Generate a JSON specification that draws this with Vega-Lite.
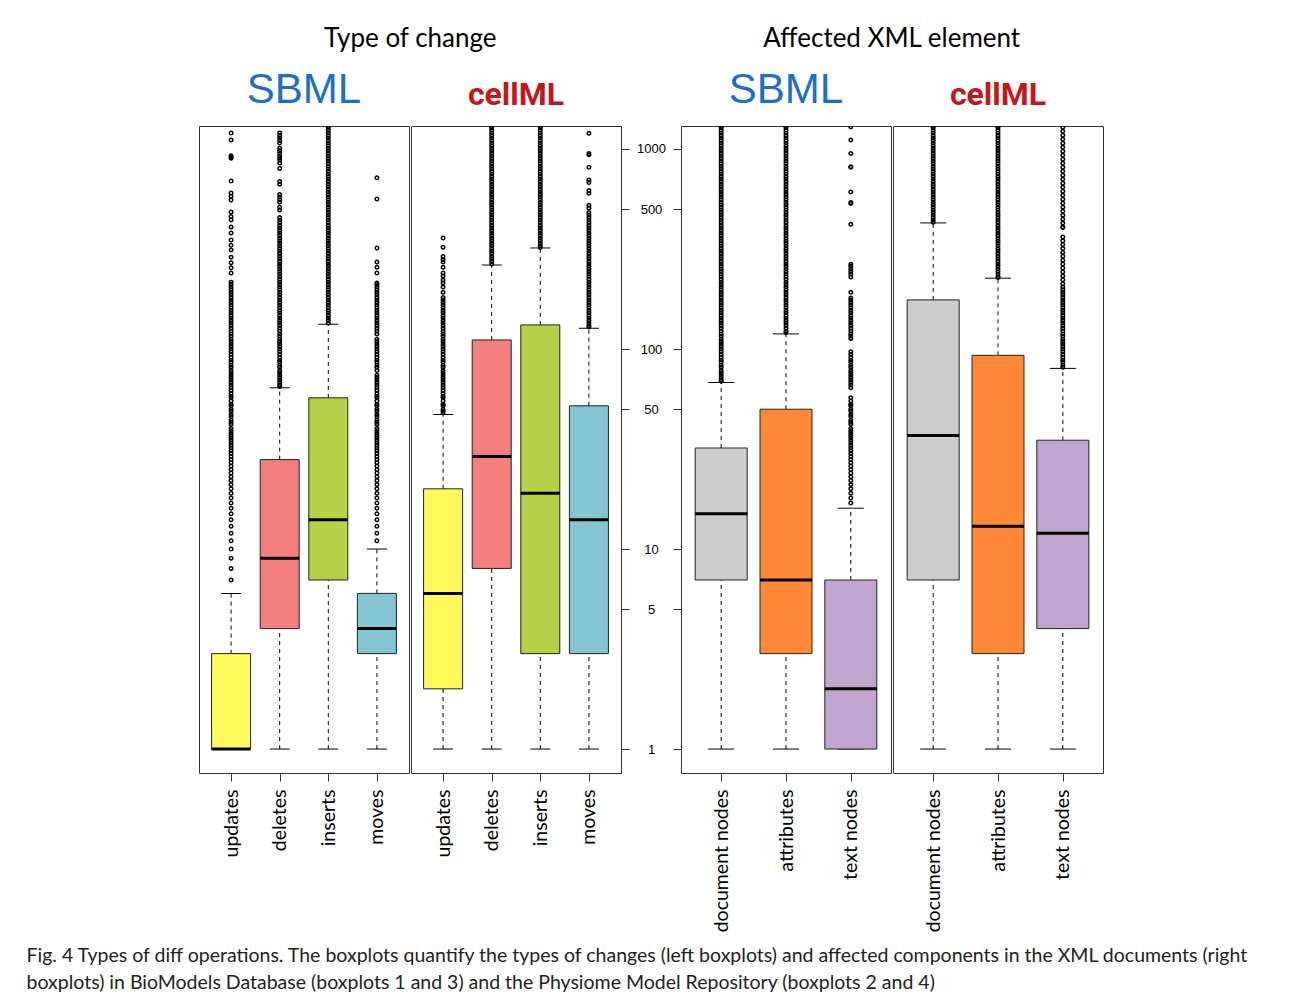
{
  "$schema": "https://vega.github.io/schema/vega-lite/v6.json",
  "background": "#ffffff",
  "padding": {"left": 26, "top": 25, "right": 5, "bottom": 5},
  "title": {
    "text": [
      "Fig. 4 Types of diff operations. The boxplots quantify the types of changes (left boxplots) and affected components in the XML documents (right",
      "boxplots) in BioModels Database (boxplots 1 and 3) and the Physiome Model Repository (boxplots 2 and 4)"
    ],
    "orient": "bottom",
    "anchor": "start",
    "font": "Lato",
    "fontSize": 19.5,
    "fontWeight": "normal",
    "color": "#222222",
    "lineHeight": 27,
    "baseline": "top",
    "offset": 15,
    "dx": -172
  },
  "datasets": {
    "boxA": [
      {"op": "updates", "lower": 1, "q1": 1, "median": 1, "q3": 3, "upper": 6},
      {"op": "deletes", "lower": 1, "q1": 4, "median": 9, "q3": 28, "upper": 64},
      {"op": "inserts", "lower": 1, "q1": 7, "median": 14, "q3": 57, "upper": 133},
      {"op": "moves", "lower": 1, "q1": 3, "median": 4, "q3": 6, "upper": 10}
    ],
    "boxB": [
      {"op": "updates", "lower": 1, "q1": 2, "median": 6, "q3": 20, "upper": 47},
      {"op": "deletes", "lower": 1, "q1": 8, "median": 29, "q3": 111, "upper": 263},
      {"op": "inserts", "lower": 1, "q1": 3, "median": 19, "q3": 132, "upper": 320},
      {"op": "moves", "lower": 1, "q1": 3, "median": 14, "q3": 52, "upper": 127}
    ],
    "boxC": [
      {"op": "document nodes", "lower": 1, "q1": 7, "median": 15, "q3": 32, "upper": 68},
      {"op": "attributes", "lower": 1, "q1": 3, "median": 7, "q3": 50, "upper": 119},
      {"op": "text nodes", "lower": 1, "q1": 1, "median": 2, "q3": 7, "upper": 16}
    ],
    "boxD": [
      {"op": "document nodes", "lower": 1, "q1": 7, "median": 37, "q3": 176, "upper": 427},
      {"op": "attributes", "lower": 1, "q1": 3, "median": 13, "q3": 93, "upper": 226},
      {"op": "text nodes", "lower": 1, "q1": 4, "median": 12, "q3": 35, "upper": 80}
    ],
    "outA": [
      {"op":"updates","n":7},{"op":"updates","n":8},{"op":"updates","n":9},{"op":"updates","n":10},{"op":"updates","n":11},{"op":"updates","n":12},{"op":"updates","n":13},{"op":"updates","n":14},{"op":"updates","n":15},{"op":"updates","n":16},{"op":"updates","n":17},{"op":"updates","n":18},{"op":"updates","n":19},{"op":"updates","n":20},{"op":"updates","n":21},{"op":"updates","n":22},{"op":"updates","n":23},{"op":"updates","n":24},{"op":"updates","n":25},{"op":"updates","n":26},{"op":"updates","n":27},{"op":"updates","n":28},{"op":"updates","n":29},{"op":"updates","n":30},{"op":"updates","n":31},{"op":"updates","n":32},{"op":"updates","n":33},{"op":"updates","n":34},{"op":"updates","n":35},{"op":"updates","n":36},{"op":"updates","n":37},{"op":"updates","n":38},{"op":"updates","n":39},{"op":"updates","n":40},{"op":"updates","n":42},{"op":"updates","n":43},{"op":"updates","n":44},{"op":"updates","n":46},{"op":"updates","n":47},{"op":"updates","n":49},{"op":"updates","n":50},{"op":"updates","n":52},{"op":"updates","n":53},{"op":"updates","n":55},{"op":"updates","n":57},{"op":"updates","n":58},{"op":"updates","n":60},{"op":"updates","n":62},{"op":"updates","n":64},{"op":"updates","n":66},{"op":"updates","n":68},{"op":"updates","n":70},{"op":"updates","n":72},{"op":"updates","n":74},{"op":"updates","n":76},{"op":"updates","n":78},{"op":"updates","n":81},{"op":"updates","n":83},{"op":"updates","n":86},{"op":"updates","n":88},{"op":"updates","n":91},{"op":"updates","n":94},{"op":"updates","n":97},{"op":"updates","n":100},{"op":"updates","n":103},{"op":"updates","n":106},{"op":"updates","n":109},{"op":"updates","n":112},{"op":"updates","n":116},{"op":"updates","n":119},{"op":"updates","n":123},{"op":"updates","n":127},{"op":"updates","n":131},{"op":"updates","n":135},{"op":"updates","n":139},{"op":"updates","n":143},{"op":"updates","n":147},{"op":"updates","n":152},{"op":"updates","n":156},{"op":"updates","n":161},{"op":"updates","n":166},{"op":"updates","n":171},{"op":"updates","n":176},{"op":"updates","n":181},{"op":"updates","n":187},{"op":"updates","n":192},{"op":"updates","n":198},{"op":"updates","n":204},{"op":"updates","n":210},{"op":"updates","n":216},{"op":"updates","n":240},{"op":"updates","n":255},{"op":"updates","n":270},{"op":"updates","n":288},{"op":"updates","n":313},{"op":"updates","n":330},{"op":"updates","n":351},{"op":"updates","n":380},{"op":"updates","n":407},{"op":"updates","n":442},{"op":"updates","n":460},{"op":"updates","n":484},{"op":"updates","n":556},{"op":"updates","n":580},{"op":"updates","n":603},{"op":"updates","n":692},{"op":"updates","n":900},{"op":"updates","n":912},{"op":"updates","n":925},{"op":"updates","n":1109},{"op":"updates","n":1202},
      {"op":"deletes","n":65},{"op":"deletes","n":66},{"op":"deletes","n":68},{"op":"deletes","n":70},{"op":"deletes","n":72},{"op":"deletes","n":74},{"op":"deletes","n":76},{"op":"deletes","n":78},{"op":"deletes","n":81},{"op":"deletes","n":83},{"op":"deletes","n":86},{"op":"deletes","n":88},{"op":"deletes","n":91},{"op":"deletes","n":94},{"op":"deletes","n":97},{"op":"deletes","n":100},{"op":"deletes","n":103},{"op":"deletes","n":106},{"op":"deletes","n":109},{"op":"deletes","n":112},{"op":"deletes","n":116},{"op":"deletes","n":119},{"op":"deletes","n":123},{"op":"deletes","n":127},{"op":"deletes","n":131},{"op":"deletes","n":135},{"op":"deletes","n":139},{"op":"deletes","n":143},{"op":"deletes","n":147},{"op":"deletes","n":152},{"op":"deletes","n":156},{"op":"deletes","n":161},{"op":"deletes","n":166},{"op":"deletes","n":171},{"op":"deletes","n":176},{"op":"deletes","n":181},{"op":"deletes","n":187},{"op":"deletes","n":192},{"op":"deletes","n":198},{"op":"deletes","n":204},{"op":"deletes","n":210},{"op":"deletes","n":216},{"op":"deletes","n":223},{"op":"deletes","n":230},{"op":"deletes","n":237},{"op":"deletes","n":244},{"op":"deletes","n":251},{"op":"deletes","n":259},{"op":"deletes","n":266},{"op":"deletes","n":274},{"op":"deletes","n":283},{"op":"deletes","n":291},{"op":"deletes","n":300},{"op":"deletes","n":309},{"op":"deletes","n":318},{"op":"deletes","n":328},{"op":"deletes","n":338},{"op":"deletes","n":348},{"op":"deletes","n":358},{"op":"deletes","n":369},{"op":"deletes","n":380},{"op":"deletes","n":391},{"op":"deletes","n":403},{"op":"deletes","n":415},{"op":"deletes","n":428},{"op":"deletes","n":441},{"op":"deletes","n":454},{"op":"deletes","n":496},{"op":"deletes","n":511},{"op":"deletes","n":542},{"op":"deletes","n":558},{"op":"deletes","n":575},{"op":"deletes","n":592},{"op":"deletes","n":667},{"op":"deletes","n":687},{"op":"deletes","n":800},{"op":"deletes","n":850},{"op":"deletes","n":880},{"op":"deletes","n":900},{"op":"deletes","n":923},{"op":"deletes","n":951},{"op":"deletes","n":979},{"op":"deletes","n":1009},{"op":"deletes","n":1070},{"op":"deletes","n":1102},{"op":"deletes","n":1135},{"op":"deletes","n":1169},{"op":"deletes","n":1204},
      {"op":"inserts","n":135},{"op":"inserts","n":139},{"op":"inserts","n":143},{"op":"inserts","n":147},{"op":"inserts","n":152},{"op":"inserts","n":156},{"op":"inserts","n":161},{"op":"inserts","n":166},{"op":"inserts","n":171},{"op":"inserts","n":176},{"op":"inserts","n":181},{"op":"inserts","n":187},{"op":"inserts","n":192},{"op":"inserts","n":198},{"op":"inserts","n":204},{"op":"inserts","n":210},{"op":"inserts","n":216},{"op":"inserts","n":223},{"op":"inserts","n":230},{"op":"inserts","n":237},{"op":"inserts","n":244},{"op":"inserts","n":251},{"op":"inserts","n":259},{"op":"inserts","n":266},{"op":"inserts","n":274},{"op":"inserts","n":283},{"op":"inserts","n":291},{"op":"inserts","n":300},{"op":"inserts","n":309},{"op":"inserts","n":318},{"op":"inserts","n":328},{"op":"inserts","n":338},{"op":"inserts","n":348},{"op":"inserts","n":358},{"op":"inserts","n":369},{"op":"inserts","n":380},{"op":"inserts","n":391},{"op":"inserts","n":403},{"op":"inserts","n":415},{"op":"inserts","n":428},{"op":"inserts","n":441},{"op":"inserts","n":454},{"op":"inserts","n":468},{"op":"inserts","n":482},{"op":"inserts","n":496},{"op":"inserts","n":511},{"op":"inserts","n":526},{"op":"inserts","n":542},{"op":"inserts","n":558},{"op":"inserts","n":575},{"op":"inserts","n":592},{"op":"inserts","n":610},{"op":"inserts","n":628},{"op":"inserts","n":647},{"op":"inserts","n":667},{"op":"inserts","n":687},{"op":"inserts","n":707},{"op":"inserts","n":728},{"op":"inserts","n":750},{"op":"inserts","n":773},{"op":"inserts","n":796},{"op":"inserts","n":820},{"op":"inserts","n":845},{"op":"inserts","n":870},{"op":"inserts","n":896},{"op":"inserts","n":923},{"op":"inserts","n":951},{"op":"inserts","n":979},{"op":"inserts","n":1009},{"op":"inserts","n":1039},{"op":"inserts","n":1070},{"op":"inserts","n":1102},{"op":"inserts","n":1135},{"op":"inserts","n":1169},{"op":"inserts","n":1204},{"op":"inserts","n":1240},{"op":"inserts","n":1277},{"op":"inserts","n":1300},
      {"op":"moves","n":11},{"op":"moves","n":12},{"op":"moves","n":13},{"op":"moves","n":14},{"op":"moves","n":15},{"op":"moves","n":16},{"op":"moves","n":17},{"op":"moves","n":18},{"op":"moves","n":19},{"op":"moves","n":20},{"op":"moves","n":21},{"op":"moves","n":22},{"op":"moves","n":23},{"op":"moves","n":24},{"op":"moves","n":25},{"op":"moves","n":26},{"op":"moves","n":27},{"op":"moves","n":28},{"op":"moves","n":29},{"op":"moves","n":30},{"op":"moves","n":31},{"op":"moves","n":32},{"op":"moves","n":33},{"op":"moves","n":34},{"op":"moves","n":35},{"op":"moves","n":36},{"op":"moves","n":37},{"op":"moves","n":38},{"op":"moves","n":39},{"op":"moves","n":40},{"op":"moves","n":42},{"op":"moves","n":43},{"op":"moves","n":44},{"op":"moves","n":46},{"op":"moves","n":47},{"op":"moves","n":49},{"op":"moves","n":50},{"op":"moves","n":52},{"op":"moves","n":53},{"op":"moves","n":55},{"op":"moves","n":57},{"op":"moves","n":58},{"op":"moves","n":60},{"op":"moves","n":62},{"op":"moves","n":64},{"op":"moves","n":66},{"op":"moves","n":68},{"op":"moves","n":70},{"op":"moves","n":72},{"op":"moves","n":74},{"op":"moves","n":78},{"op":"moves","n":81},{"op":"moves","n":83},{"op":"moves","n":86},{"op":"moves","n":88},{"op":"moves","n":91},{"op":"moves","n":94},{"op":"moves","n":97},{"op":"moves","n":100},{"op":"moves","n":103},{"op":"moves","n":106},{"op":"moves","n":109},{"op":"moves","n":112},{"op":"moves","n":119},{"op":"moves","n":123},{"op":"moves","n":127},{"op":"moves","n":131},{"op":"moves","n":135},{"op":"moves","n":139},{"op":"moves","n":143},{"op":"moves","n":147},{"op":"moves","n":152},{"op":"moves","n":156},{"op":"moves","n":161},{"op":"moves","n":166},{"op":"moves","n":171},{"op":"moves","n":176},{"op":"moves","n":181},{"op":"moves","n":187},{"op":"moves","n":192},{"op":"moves","n":198},{"op":"moves","n":204},{"op":"moves","n":210},{"op":"moves","n":214},{"op":"moves","n":240},{"op":"moves","n":256},{"op":"moves","n":272},{"op":"moves","n":320},{"op":"moves","n":562},{"op":"moves","n":718}
    ],
    "outB": [
      {"op":"updates","n":48},{"op":"updates","n":49},{"op":"updates","n":50},{"op":"updates","n":52},{"op":"updates","n":53},{"op":"updates","n":55},{"op":"updates","n":57},{"op":"updates","n":58},{"op":"updates","n":60},{"op":"updates","n":62},{"op":"updates","n":64},{"op":"updates","n":66},{"op":"updates","n":68},{"op":"updates","n":70},{"op":"updates","n":72},{"op":"updates","n":74},{"op":"updates","n":76},{"op":"updates","n":78},{"op":"updates","n":81},{"op":"updates","n":83},{"op":"updates","n":86},{"op":"updates","n":88},{"op":"updates","n":91},{"op":"updates","n":94},{"op":"updates","n":97},{"op":"updates","n":100},{"op":"updates","n":103},{"op":"updates","n":106},{"op":"updates","n":109},{"op":"updates","n":112},{"op":"updates","n":116},{"op":"updates","n":119},{"op":"updates","n":123},{"op":"updates","n":127},{"op":"updates","n":131},{"op":"updates","n":135},{"op":"updates","n":139},{"op":"updates","n":143},{"op":"updates","n":147},{"op":"updates","n":152},{"op":"updates","n":156},{"op":"updates","n":161},{"op":"updates","n":166},{"op":"updates","n":171},{"op":"updates","n":176},{"op":"updates","n":181},{"op":"updates","n":192},{"op":"updates","n":204},{"op":"updates","n":214},{"op":"updates","n":221},{"op":"updates","n":232},{"op":"updates","n":240},{"op":"updates","n":256},{"op":"updates","n":272},{"op":"updates","n":280},{"op":"updates","n":290},{"op":"updates","n":323},{"op":"updates","n":359},
      {"op":"deletes","n":266},{"op":"deletes","n":274},{"op":"deletes","n":283},{"op":"deletes","n":291},{"op":"deletes","n":300},{"op":"deletes","n":309},{"op":"deletes","n":318},{"op":"deletes","n":328},{"op":"deletes","n":338},{"op":"deletes","n":348},{"op":"deletes","n":358},{"op":"deletes","n":369},{"op":"deletes","n":380},{"op":"deletes","n":391},{"op":"deletes","n":403},{"op":"deletes","n":415},{"op":"deletes","n":428},{"op":"deletes","n":441},{"op":"deletes","n":454},{"op":"deletes","n":468},{"op":"deletes","n":482},{"op":"deletes","n":496},{"op":"deletes","n":511},{"op":"deletes","n":526},{"op":"deletes","n":542},{"op":"deletes","n":558},{"op":"deletes","n":575},{"op":"deletes","n":592},{"op":"deletes","n":610},{"op":"deletes","n":628},{"op":"deletes","n":647},{"op":"deletes","n":667},{"op":"deletes","n":687},{"op":"deletes","n":707},{"op":"deletes","n":728},{"op":"deletes","n":750},{"op":"deletes","n":773},{"op":"deletes","n":796},{"op":"deletes","n":820},{"op":"deletes","n":845},{"op":"deletes","n":870},{"op":"deletes","n":896},{"op":"deletes","n":923},{"op":"deletes","n":951},{"op":"deletes","n":979},{"op":"deletes","n":1009},{"op":"deletes","n":1039},{"op":"deletes","n":1070},{"op":"deletes","n":1102},{"op":"deletes","n":1135},{"op":"deletes","n":1169},{"op":"deletes","n":1204},{"op":"deletes","n":1240},{"op":"deletes","n":1277},{"op":"deletes","n":1300},
      {"op":"inserts","n":322},{"op":"inserts","n":328},{"op":"inserts","n":338},{"op":"inserts","n":348},{"op":"inserts","n":358},{"op":"inserts","n":369},{"op":"inserts","n":380},{"op":"inserts","n":391},{"op":"inserts","n":403},{"op":"inserts","n":415},{"op":"inserts","n":428},{"op":"inserts","n":441},{"op":"inserts","n":454},{"op":"inserts","n":468},{"op":"inserts","n":482},{"op":"inserts","n":496},{"op":"inserts","n":511},{"op":"inserts","n":526},{"op":"inserts","n":542},{"op":"inserts","n":558},{"op":"inserts","n":575},{"op":"inserts","n":592},{"op":"inserts","n":610},{"op":"inserts","n":628},{"op":"inserts","n":647},{"op":"inserts","n":667},{"op":"inserts","n":687},{"op":"inserts","n":707},{"op":"inserts","n":728},{"op":"inserts","n":750},{"op":"inserts","n":773},{"op":"inserts","n":796},{"op":"inserts","n":820},{"op":"inserts","n":845},{"op":"inserts","n":870},{"op":"inserts","n":896},{"op":"inserts","n":923},{"op":"inserts","n":951},{"op":"inserts","n":979},{"op":"inserts","n":1009},{"op":"inserts","n":1039},{"op":"inserts","n":1070},{"op":"inserts","n":1102},{"op":"inserts","n":1135},{"op":"inserts","n":1169},{"op":"inserts","n":1204},{"op":"inserts","n":1240},{"op":"inserts","n":1277},{"op":"inserts","n":1300},
      {"op":"moves","n":129},{"op":"moves","n":131},{"op":"moves","n":135},{"op":"moves","n":139},{"op":"moves","n":143},{"op":"moves","n":147},{"op":"moves","n":152},{"op":"moves","n":156},{"op":"moves","n":161},{"op":"moves","n":166},{"op":"moves","n":171},{"op":"moves","n":176},{"op":"moves","n":181},{"op":"moves","n":187},{"op":"moves","n":192},{"op":"moves","n":198},{"op":"moves","n":204},{"op":"moves","n":210},{"op":"moves","n":216},{"op":"moves","n":223},{"op":"moves","n":230},{"op":"moves","n":237},{"op":"moves","n":244},{"op":"moves","n":251},{"op":"moves","n":259},{"op":"moves","n":266},{"op":"moves","n":274},{"op":"moves","n":283},{"op":"moves","n":291},{"op":"moves","n":300},{"op":"moves","n":309},{"op":"moves","n":318},{"op":"moves","n":328},{"op":"moves","n":338},{"op":"moves","n":348},{"op":"moves","n":358},{"op":"moves","n":369},{"op":"moves","n":380},{"op":"moves","n":391},{"op":"moves","n":403},{"op":"moves","n":415},{"op":"moves","n":428},{"op":"moves","n":441},{"op":"moves","n":454},{"op":"moves","n":468},{"op":"moves","n":482},{"op":"moves","n":507},{"op":"moves","n":523},{"op":"moves","n":600},{"op":"moves","n":620},{"op":"moves","n":680},{"op":"moves","n":700},{"op":"moves","n":810},{"op":"moves","n":935},{"op":"moves","n":950},{"op":"moves","n":1200}
    ],
    "outC": [
      {"op":"document nodes","n":69},{"op":"document nodes","n":70},{"op":"document nodes","n":72},{"op":"document nodes","n":74},{"op":"document nodes","n":76},{"op":"document nodes","n":78},{"op":"document nodes","n":81},{"op":"document nodes","n":83},{"op":"document nodes","n":86},{"op":"document nodes","n":88},{"op":"document nodes","n":91},{"op":"document nodes","n":94},{"op":"document nodes","n":97},{"op":"document nodes","n":100},{"op":"document nodes","n":103},{"op":"document nodes","n":106},{"op":"document nodes","n":109},{"op":"document nodes","n":112},{"op":"document nodes","n":116},{"op":"document nodes","n":119},{"op":"document nodes","n":123},{"op":"document nodes","n":127},{"op":"document nodes","n":131},{"op":"document nodes","n":135},{"op":"document nodes","n":139},{"op":"document nodes","n":143},{"op":"document nodes","n":147},{"op":"document nodes","n":152},{"op":"document nodes","n":156},{"op":"document nodes","n":161},{"op":"document nodes","n":166},{"op":"document nodes","n":171},{"op":"document nodes","n":176},{"op":"document nodes","n":181},{"op":"document nodes","n":187},{"op":"document nodes","n":192},{"op":"document nodes","n":198},{"op":"document nodes","n":204},{"op":"document nodes","n":210},{"op":"document nodes","n":216},{"op":"document nodes","n":223},{"op":"document nodes","n":230},{"op":"document nodes","n":237},{"op":"document nodes","n":244},{"op":"document nodes","n":251},{"op":"document nodes","n":259},{"op":"document nodes","n":266},{"op":"document nodes","n":274},{"op":"document nodes","n":283},{"op":"document nodes","n":291},{"op":"document nodes","n":300},{"op":"document nodes","n":309},{"op":"document nodes","n":318},{"op":"document nodes","n":328},{"op":"document nodes","n":338},{"op":"document nodes","n":348},{"op":"document nodes","n":358},{"op":"document nodes","n":369},{"op":"document nodes","n":380},{"op":"document nodes","n":391},{"op":"document nodes","n":403},{"op":"document nodes","n":415},{"op":"document nodes","n":428},{"op":"document nodes","n":441},{"op":"document nodes","n":454},{"op":"document nodes","n":468},{"op":"document nodes","n":482},{"op":"document nodes","n":496},{"op":"document nodes","n":511},{"op":"document nodes","n":526},{"op":"document nodes","n":542},{"op":"document nodes","n":558},{"op":"document nodes","n":575},{"op":"document nodes","n":592},{"op":"document nodes","n":610},{"op":"document nodes","n":628},{"op":"document nodes","n":647},{"op":"document nodes","n":667},{"op":"document nodes","n":687},{"op":"document nodes","n":707},{"op":"document nodes","n":728},{"op":"document nodes","n":750},{"op":"document nodes","n":773},{"op":"document nodes","n":796},{"op":"document nodes","n":820},{"op":"document nodes","n":845},{"op":"document nodes","n":870},{"op":"document nodes","n":896},{"op":"document nodes","n":923},{"op":"document nodes","n":951},{"op":"document nodes","n":979},{"op":"document nodes","n":1009},{"op":"document nodes","n":1039},{"op":"document nodes","n":1070},{"op":"document nodes","n":1102},{"op":"document nodes","n":1135},{"op":"document nodes","n":1169},{"op":"document nodes","n":1204},{"op":"document nodes","n":1240},{"op":"document nodes","n":1277},{"op":"document nodes","n":1300},
      {"op":"attributes","n":121},{"op":"attributes","n":123},{"op":"attributes","n":127},{"op":"attributes","n":131},{"op":"attributes","n":135},{"op":"attributes","n":139},{"op":"attributes","n":143},{"op":"attributes","n":147},{"op":"attributes","n":152},{"op":"attributes","n":156},{"op":"attributes","n":161},{"op":"attributes","n":166},{"op":"attributes","n":171},{"op":"attributes","n":176},{"op":"attributes","n":181},{"op":"attributes","n":187},{"op":"attributes","n":192},{"op":"attributes","n":198},{"op":"attributes","n":204},{"op":"attributes","n":210},{"op":"attributes","n":216},{"op":"attributes","n":223},{"op":"attributes","n":230},{"op":"attributes","n":237},{"op":"attributes","n":244},{"op":"attributes","n":251},{"op":"attributes","n":259},{"op":"attributes","n":266},{"op":"attributes","n":274},{"op":"attributes","n":283},{"op":"attributes","n":291},{"op":"attributes","n":300},{"op":"attributes","n":309},{"op":"attributes","n":318},{"op":"attributes","n":328},{"op":"attributes","n":338},{"op":"attributes","n":348},{"op":"attributes","n":358},{"op":"attributes","n":369},{"op":"attributes","n":380},{"op":"attributes","n":391},{"op":"attributes","n":403},{"op":"attributes","n":415},{"op":"attributes","n":428},{"op":"attributes","n":441},{"op":"attributes","n":454},{"op":"attributes","n":468},{"op":"attributes","n":482},{"op":"attributes","n":496},{"op":"attributes","n":511},{"op":"attributes","n":526},{"op":"attributes","n":542},{"op":"attributes","n":558},{"op":"attributes","n":575},{"op":"attributes","n":592},{"op":"attributes","n":610},{"op":"attributes","n":628},{"op":"attributes","n":647},{"op":"attributes","n":667},{"op":"attributes","n":687},{"op":"attributes","n":707},{"op":"attributes","n":728},{"op":"attributes","n":750},{"op":"attributes","n":773},{"op":"attributes","n":796},{"op":"attributes","n":820},{"op":"attributes","n":845},{"op":"attributes","n":870},{"op":"attributes","n":896},{"op":"attributes","n":923},{"op":"attributes","n":951},{"op":"attributes","n":979},{"op":"attributes","n":1009},{"op":"attributes","n":1039},{"op":"attributes","n":1070},{"op":"attributes","n":1102},{"op":"attributes","n":1135},{"op":"attributes","n":1169},{"op":"attributes","n":1204},{"op":"attributes","n":1240},{"op":"attributes","n":1277},{"op":"attributes","n":1300},
      {"op":"text nodes","n":17},{"op":"text nodes","n":18},{"op":"text nodes","n":19},{"op":"text nodes","n":20},{"op":"text nodes","n":21},{"op":"text nodes","n":22},{"op":"text nodes","n":23},{"op":"text nodes","n":24},{"op":"text nodes","n":25},{"op":"text nodes","n":26},{"op":"text nodes","n":27},{"op":"text nodes","n":28},{"op":"text nodes","n":29},{"op":"text nodes","n":30},{"op":"text nodes","n":31},{"op":"text nodes","n":32},{"op":"text nodes","n":33},{"op":"text nodes","n":34},{"op":"text nodes","n":35},{"op":"text nodes","n":36},{"op":"text nodes","n":37},{"op":"text nodes","n":38},{"op":"text nodes","n":39},{"op":"text nodes","n":40},{"op":"text nodes","n":42},{"op":"text nodes","n":43},{"op":"text nodes","n":44},{"op":"text nodes","n":46},{"op":"text nodes","n":47},{"op":"text nodes","n":49},{"op":"text nodes","n":50},{"op":"text nodes","n":52},{"op":"text nodes","n":53},{"op":"text nodes","n":55},{"op":"text nodes","n":57},{"op":"text nodes","n":64},{"op":"text nodes","n":66},{"op":"text nodes","n":68},{"op":"text nodes","n":70},{"op":"text nodes","n":72},{"op":"text nodes","n":74},{"op":"text nodes","n":76},{"op":"text nodes","n":78},{"op":"text nodes","n":81},{"op":"text nodes","n":83},{"op":"text nodes","n":86},{"op":"text nodes","n":88},{"op":"text nodes","n":91},{"op":"text nodes","n":94},{"op":"text nodes","n":97},{"op":"text nodes","n":113},{"op":"text nodes","n":116},{"op":"text nodes","n":119},{"op":"text nodes","n":123},{"op":"text nodes","n":127},{"op":"text nodes","n":131},{"op":"text nodes","n":135},{"op":"text nodes","n":139},{"op":"text nodes","n":143},{"op":"text nodes","n":147},{"op":"text nodes","n":152},{"op":"text nodes","n":156},{"op":"text nodes","n":161},{"op":"text nodes","n":166},{"op":"text nodes","n":171},{"op":"text nodes","n":176},{"op":"text nodes","n":180},{"op":"text nodes","n":192},{"op":"text nodes","n":229},{"op":"text nodes","n":237},{"op":"text nodes","n":244},{"op":"text nodes","n":251},{"op":"text nodes","n":259},{"op":"text nodes","n":265},{"op":"text nodes","n":420},{"op":"text nodes","n":534},{"op":"text nodes","n":540},{"op":"text nodes","n":610},{"op":"text nodes","n":810},{"op":"text nodes","n":815},{"op":"text nodes","n":950},{"op":"text nodes","n":1110},{"op":"text nodes","n":1290}
    ],
    "outD": [
      {"op":"document nodes","n":430},{"op":"document nodes","n":441},{"op":"document nodes","n":454},{"op":"document nodes","n":468},{"op":"document nodes","n":482},{"op":"document nodes","n":496},{"op":"document nodes","n":511},{"op":"document nodes","n":526},{"op":"document nodes","n":542},{"op":"document nodes","n":558},{"op":"document nodes","n":575},{"op":"document nodes","n":592},{"op":"document nodes","n":610},{"op":"document nodes","n":628},{"op":"document nodes","n":647},{"op":"document nodes","n":667},{"op":"document nodes","n":687},{"op":"document nodes","n":707},{"op":"document nodes","n":728},{"op":"document nodes","n":750},{"op":"document nodes","n":773},{"op":"document nodes","n":796},{"op":"document nodes","n":820},{"op":"document nodes","n":845},{"op":"document nodes","n":870},{"op":"document nodes","n":896},{"op":"document nodes","n":923},{"op":"document nodes","n":951},{"op":"document nodes","n":979},{"op":"document nodes","n":1009},{"op":"document nodes","n":1039},{"op":"document nodes","n":1070},{"op":"document nodes","n":1102},{"op":"document nodes","n":1135},{"op":"document nodes","n":1169},{"op":"document nodes","n":1204},{"op":"document nodes","n":1240},{"op":"document nodes","n":1277},{"op":"document nodes","n":1300},
      {"op":"attributes","n":228},{"op":"attributes","n":230},{"op":"attributes","n":237},{"op":"attributes","n":244},{"op":"attributes","n":251},{"op":"attributes","n":259},{"op":"attributes","n":266},{"op":"attributes","n":274},{"op":"attributes","n":283},{"op":"attributes","n":291},{"op":"attributes","n":300},{"op":"attributes","n":309},{"op":"attributes","n":318},{"op":"attributes","n":328},{"op":"attributes","n":338},{"op":"attributes","n":348},{"op":"attributes","n":358},{"op":"attributes","n":369},{"op":"attributes","n":380},{"op":"attributes","n":391},{"op":"attributes","n":403},{"op":"attributes","n":415},{"op":"attributes","n":428},{"op":"attributes","n":441},{"op":"attributes","n":454},{"op":"attributes","n":468},{"op":"attributes","n":482},{"op":"attributes","n":496},{"op":"attributes","n":511},{"op":"attributes","n":526},{"op":"attributes","n":542},{"op":"attributes","n":558},{"op":"attributes","n":575},{"op":"attributes","n":592},{"op":"attributes","n":610},{"op":"attributes","n":628},{"op":"attributes","n":647},{"op":"attributes","n":667},{"op":"attributes","n":687},{"op":"attributes","n":707},{"op":"attributes","n":728},{"op":"attributes","n":750},{"op":"attributes","n":773},{"op":"attributes","n":796},{"op":"attributes","n":820},{"op":"attributes","n":845},{"op":"attributes","n":870},{"op":"attributes","n":896},{"op":"attributes","n":923},{"op":"attributes","n":951},{"op":"attributes","n":979},{"op":"attributes","n":1009},{"op":"attributes","n":1039},{"op":"attributes","n":1070},{"op":"attributes","n":1102},{"op":"attributes","n":1135},{"op":"attributes","n":1169},{"op":"attributes","n":1204},{"op":"attributes","n":1240},{"op":"attributes","n":1277},{"op":"attributes","n":1300},
      {"op":"text nodes","n":81},{"op":"text nodes","n":83},{"op":"text nodes","n":86},{"op":"text nodes","n":88},{"op":"text nodes","n":91},{"op":"text nodes","n":94},{"op":"text nodes","n":97},{"op":"text nodes","n":100},{"op":"text nodes","n":103},{"op":"text nodes","n":106},{"op":"text nodes","n":109},{"op":"text nodes","n":112},{"op":"text nodes","n":116},{"op":"text nodes","n":119},{"op":"text nodes","n":123},{"op":"text nodes","n":127},{"op":"text nodes","n":131},{"op":"text nodes","n":135},{"op":"text nodes","n":139},{"op":"text nodes","n":143},{"op":"text nodes","n":147},{"op":"text nodes","n":152},{"op":"text nodes","n":156},{"op":"text nodes","n":161},{"op":"text nodes","n":166},{"op":"text nodes","n":171},{"op":"text nodes","n":176},{"op":"text nodes","n":181},{"op":"text nodes","n":187},{"op":"text nodes","n":192},{"op":"text nodes","n":198},{"op":"text nodes","n":204},{"op":"text nodes","n":212},{"op":"text nodes","n":222},{"op":"text nodes","n":232},{"op":"text nodes","n":243},{"op":"text nodes","n":254},{"op":"text nodes","n":266},{"op":"text nodes","n":278},{"op":"text nodes","n":291},{"op":"text nodes","n":304},{"op":"text nodes","n":318},{"op":"text nodes","n":333},{"op":"text nodes","n":348},{"op":"text nodes","n":363},{"op":"text nodes","n":405},{"op":"text nodes","n":407},{"op":"text nodes","n":426},{"op":"text nodes","n":446},{"op":"text nodes","n":467},{"op":"text nodes","n":489},{"op":"text nodes","n":512},{"op":"text nodes","n":536},{"op":"text nodes","n":561},{"op":"text nodes","n":587},{"op":"text nodes","n":615},{"op":"text nodes","n":644},{"op":"text nodes","n":674},{"op":"text nodes","n":706},{"op":"text nodes","n":739},{"op":"text nodes","n":774},{"op":"text nodes","n":810},{"op":"text nodes","n":848},{"op":"text nodes","n":888},{"op":"text nodes","n":930},{"op":"text nodes","n":974},{"op":"text nodes","n":1020},{"op":"text nodes","n":1068},{"op":"text nodes","n":1118},{"op":"text nodes","n":1171},{"op":"text nodes","n":1226},{"op":"text nodes","n":1284}
    ]
  },
  "spacing": 6,
  "hconcat": [
    {
      "title": {"text": "Type of change", "font": "Lato", "fontSize": 26, "fontWeight": "normal", "color": "#000000", "anchor": "middle", "offset": 17, "dx": -22},
      "bounds": "flush",
      "spacing": 2,
      "hconcat": [
        {
          "width": 210,
          "height": 647,
          "title": {"text": "SBML", "font": "Liberation Sans", "fontSize": 42, "fontWeight": "normal", "color": "#1d6fc4", "anchor": "middle", "offset": 14},
          "data": {"name": "boxA"},
          "encoding": {
            "x": {"field": "op", "type": "nominal", "scale": {"type": "point", "padding": 0.66, "domain": ["updates", "deletes", "inserts", "moves"]}, "axis": {"title": null, "labelAngle": -90, "labelFont": "Lato", "labelFontSize": 19.5, "labelColor": "#000000", "labelPadding": 8, "domain": false, "grid": false, "tickSize": 8, "tickColor": "#333333"}}
          },
          "layer": [
            {"mark": {"type": "rule", "color": "#000000", "strokeDash": [4, 4]}, "encoding": {"y": {"field": "q3", "type": "quantitative", "scale": {"type": "log", "domain": [0.759, 1303], "nice": false, "zero": false}, "axis": null}, "y2": {"field": "upper"}}},
            {"mark": {"type": "rule", "color": "#000000", "strokeDash": [4, 4]}, "encoding": {"y": {"field": "lower", "type": "quantitative", "scale": {"type": "log", "domain": [0.759, 1303], "nice": false, "zero": false}, "axis": null}, "y2": {"field": "q1"}}},
            {"mark": {"type": "tick", "color": "#000000", "size": 20, "thickness": 1, "opacity": 1}, "encoding": {"y": {"field": "upper", "type": "quantitative", "scale": {"type": "log", "domain": [0.759, 1303], "nice": false, "zero": false}, "axis": null}}},
            {"mark": {"type": "tick", "color": "#000000", "size": 20, "thickness": 1, "opacity": 1}, "encoding": {"y": {"field": "lower", "type": "quantitative", "scale": {"type": "log", "domain": [0.759, 1303], "nice": false, "zero": false}, "axis": null}}},
            {"mark": {"type": "bar", "size": 39, "stroke": "#222222", "strokeWidth": 1, "opacity": 1}, "encoding": {"y": {"field": "q1", "type": "quantitative", "scale": {"type": "log", "domain": [0.759, 1303], "nice": false, "zero": false}, "axis": null}, "y2": {"field": "q3"}, "color": {"field": "op", "type": "nominal", "legend": null, "scale": {"domain": ["updates", "deletes", "inserts", "moves", "document nodes", "attributes", "text nodes"], "range": ["#FFF95B", "#F47F7F", "#B6D147", "#84C5D1", "#CCCCCC", "#FC8838", "#C2A5CF"]}}}},
            {"mark": {"type": "tick", "color": "#000000", "size": 39, "thickness": 3, "opacity": 1}, "encoding": {"y": {"field": "median", "type": "quantitative", "scale": {"type": "log", "domain": [0.759, 1303], "nice": false, "zero": false}, "axis": null}}},
            {"data": {"name": "outA"}, "mark": {"type": "point", "shape": "circle", "filled": false, "size": 12, "strokeWidth": 1.5, "color": "#000000", "opacity": 1, "clip": true}, "encoding": {"y": {"field": "n", "type": "quantitative", "scale": {"type": "log", "domain": [0.759, 1303], "nice": false, "zero": false}, "axis": null}}}
          ]
        },
        {
          "width": 210,
          "height": 647,
          "title": {"text": "cellML", "font": "Roboto", "fontSize": 32, "fontWeight": "bold", "color": "#c4161c", "anchor": "middle", "offset": 14},
          "data": {"name": "boxB"},
          "encoding": {
            "x": {"field": "op", "type": "nominal", "scale": {"type": "point", "padding": 0.66, "domain": ["updates", "deletes", "inserts", "moves"]}, "axis": {"title": null, "labelAngle": -90, "labelFont": "Lato", "labelFontSize": 19.5, "labelColor": "#000000", "labelPadding": 8, "domain": false, "grid": false, "tickSize": 8, "tickColor": "#333333"}},
            "y": {"type": "quantitative", "scale": {"type": "log", "domain": [0.759, 1303], "nice": false, "zero": false}, "axis": {"orient": "right", "title": null, "values": [1, 5, 10, 50, 100, 500, 1000], "format": "d", "domain": false, "grid": false, "tickSize": 8, "tickColor": "#333333", "labelFont": "Liberation Sans", "labelFontSize": 13, "labelColor": "#000000", "labelAlign": "center", "labelBaseline": "middle", "labelPadding": 22}}
          },
          "layer": [
            {"mark": {"type": "rule", "color": "#000000", "strokeDash": [4, 4]}, "encoding": {"y": {"field": "q3"}, "y2": {"field": "upper"}}},
            {"mark": {"type": "rule", "color": "#000000", "strokeDash": [4, 4]}, "encoding": {"y": {"field": "lower"}, "y2": {"field": "q1"}}},
            {"mark": {"type": "tick", "color": "#000000", "size": 20, "thickness": 1, "opacity": 1}, "encoding": {"y": {"field": "upper"}}},
            {"mark": {"type": "tick", "color": "#000000", "size": 20, "thickness": 1, "opacity": 1}, "encoding": {"y": {"field": "lower"}}},
            {"mark": {"type": "bar", "size": 39, "stroke": "#222222", "strokeWidth": 1, "opacity": 1}, "encoding": {"y": {"field": "q1"}, "y2": {"field": "q3"}, "color": {"field": "op", "type": "nominal", "legend": null, "scale": {"domain": ["updates", "deletes", "inserts", "moves", "document nodes", "attributes", "text nodes"], "range": ["#FFF95B", "#F47F7F", "#B6D147", "#84C5D1", "#CCCCCC", "#FC8838", "#C2A5CF"]}}}},
            {"mark": {"type": "tick", "color": "#000000", "size": 39, "thickness": 3, "opacity": 1}, "encoding": {"y": {"field": "median"}}},
            {"data": {"name": "outB"}, "mark": {"type": "point", "shape": "circle", "filled": false, "size": 12, "strokeWidth": 1.5, "color": "#000000", "opacity": 1, "clip": true}, "encoding": {"y": {"field": "n"}}}
          ]
        }
      ]
    },
    {
      "title": {"text": "Affected XML element", "font": "Lato", "fontSize": 26, "fontWeight": "normal", "color": "#000000", "anchor": "middle", "offset": 17, "dx": 4},
      "bounds": "flush",
      "spacing": 2,
      "hconcat": [
        {
          "width": 210,
          "height": 647,
          "title": {"text": "SBML", "font": "Liberation Sans", "fontSize": 42, "fontWeight": "normal", "color": "#1d6fc4", "anchor": "middle", "offset": 14},
          "data": {"name": "boxC"},
          "encoding": {
            "x": {"field": "op", "type": "nominal", "scale": {"type": "point", "padding": 0.62, "domain": ["document nodes", "attributes", "text nodes"]}, "axis": {"title": null, "labelAngle": -90, "labelFont": "Lato", "labelFontSize": 19.5, "labelColor": "#000000", "labelPadding": 8, "domain": false, "grid": false, "tickSize": 8, "tickColor": "#333333"}},
            "y": {"type": "quantitative", "scale": {"type": "log", "domain": [0.759, 1303], "nice": false, "zero": false}, "axis": {"orient": "left", "title": null, "values": [1, 5, 10, 50, 100, 500, 1000], "labels": false, "domain": false, "grid": false, "tickSize": 8, "tickColor": "#333333"}}
          },
          "layer": [
            {"mark": {"type": "rule", "color": "#000000", "strokeDash": [4, 4]}, "encoding": {"y": {"field": "q3"}, "y2": {"field": "upper"}}},
            {"mark": {"type": "rule", "color": "#000000", "strokeDash": [4, 4]}, "encoding": {"y": {"field": "lower"}, "y2": {"field": "q1"}}},
            {"mark": {"type": "tick", "color": "#000000", "size": 26, "thickness": 1, "opacity": 1}, "encoding": {"y": {"field": "upper"}}},
            {"mark": {"type": "tick", "color": "#000000", "size": 26, "thickness": 1, "opacity": 1}, "encoding": {"y": {"field": "lower"}}},
            {"mark": {"type": "bar", "size": 52, "stroke": "#222222", "strokeWidth": 1, "opacity": 1}, "encoding": {"y": {"field": "q1"}, "y2": {"field": "q3"}, "color": {"field": "op", "type": "nominal", "legend": null, "scale": {"domain": ["updates", "deletes", "inserts", "moves", "document nodes", "attributes", "text nodes"], "range": ["#FFF95B", "#F47F7F", "#B6D147", "#84C5D1", "#CCCCCC", "#FC8838", "#C2A5CF"]}}}},
            {"mark": {"type": "tick", "color": "#000000", "size": 52, "thickness": 3, "opacity": 1}, "encoding": {"y": {"field": "median"}}},
            {"data": {"name": "outC"}, "mark": {"type": "point", "shape": "circle", "filled": false, "size": 12, "strokeWidth": 1.5, "color": "#000000", "opacity": 1, "clip": true}, "encoding": {"y": {"field": "n"}}}
          ]
        },
        {
          "width": 210,
          "height": 647,
          "title": {"text": "cellML", "font": "Roboto", "fontSize": 32, "fontWeight": "bold", "color": "#c4161c", "anchor": "middle", "offset": 14},
          "data": {"name": "boxD"},
          "encoding": {
            "x": {"field": "op", "type": "nominal", "scale": {"type": "point", "padding": 0.62, "domain": ["document nodes", "attributes", "text nodes"]}, "axis": {"title": null, "labelAngle": -90, "labelFont": "Lato", "labelFontSize": 19.5, "labelColor": "#000000", "labelPadding": 8, "domain": false, "grid": false, "tickSize": 8, "tickColor": "#333333"}}
          },
          "layer": [
            {"mark": {"type": "rule", "color": "#000000", "strokeDash": [4, 4]}, "encoding": {"y": {"field": "q3", "type": "quantitative", "scale": {"type": "log", "domain": [0.759, 1303], "nice": false, "zero": false}, "axis": null}, "y2": {"field": "upper"}}},
            {"mark": {"type": "rule", "color": "#000000", "strokeDash": [4, 4]}, "encoding": {"y": {"field": "lower", "type": "quantitative", "scale": {"type": "log", "domain": [0.759, 1303], "nice": false, "zero": false}, "axis": null}, "y2": {"field": "q1"}}},
            {"mark": {"type": "tick", "color": "#000000", "size": 26, "thickness": 1, "opacity": 1}, "encoding": {"y": {"field": "upper", "type": "quantitative", "scale": {"type": "log", "domain": [0.759, 1303], "nice": false, "zero": false}, "axis": null}}},
            {"mark": {"type": "tick", "color": "#000000", "size": 26, "thickness": 1, "opacity": 1}, "encoding": {"y": {"field": "lower", "type": "quantitative", "scale": {"type": "log", "domain": [0.759, 1303], "nice": false, "zero": false}, "axis": null}}},
            {"mark": {"type": "bar", "size": 52, "stroke": "#222222", "strokeWidth": 1, "opacity": 1}, "encoding": {"y": {"field": "q1", "type": "quantitative", "scale": {"type": "log", "domain": [0.759, 1303], "nice": false, "zero": false}, "axis": null}, "y2": {"field": "q3"}, "color": {"field": "op", "type": "nominal", "legend": null, "scale": {"domain": ["updates", "deletes", "inserts", "moves", "document nodes", "attributes", "text nodes"], "range": ["#FFF95B", "#F47F7F", "#B6D147", "#84C5D1", "#CCCCCC", "#FC8838", "#C2A5CF"]}}}},
            {"mark": {"type": "tick", "color": "#000000", "size": 52, "thickness": 3, "opacity": 1}, "encoding": {"y": {"field": "median", "type": "quantitative", "scale": {"type": "log", "domain": [0.759, 1303], "nice": false, "zero": false}, "axis": null}}},
            {"data": {"name": "outD"}, "mark": {"type": "point", "shape": "circle", "filled": false, "size": 12, "strokeWidth": 1.5, "color": "#000000", "opacity": 1, "clip": true}, "encoding": {"y": {"field": "n", "type": "quantitative", "scale": {"type": "log", "domain": [0.759, 1303], "nice": false, "zero": false}, "axis": null}}}
          ]
        }
      ]
    }
  ],
  "config": {
    "view": {"stroke": "#333333", "strokeWidth": 1},
    "font": "Lato"
  }
}
